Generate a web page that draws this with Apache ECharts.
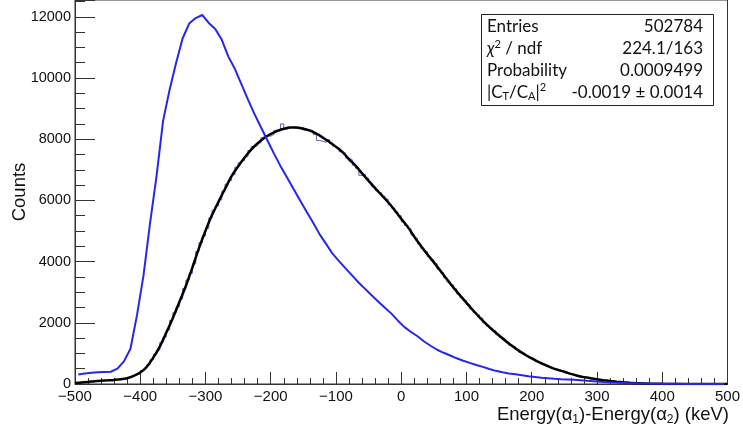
<!DOCTYPE html>
<html><head><meta charset="utf-8">
<script src="https://cdn.jsdelivr.net/npm/echarts@6/dist/echarts.min.js"></script>
<style>html,body{margin:0;padding:0;background:#fff}#c{width:743px;height:432px}</style>
</head><body><div id="c"></div>
<script>
// ---- data ----
// data histogram: 5 keV bins, lower edges from -500
const histStart = -500, histWidth = 5;
const histCounts = [
30,52,58,60,70,95,100,98,118,110,115,140,145,135,170,175,200,260,300,330,
440,505,620,800,970,1110,1360,1540,1770,2080,2330,2520,2780,3120,3400,3620,3930,4330,4620,4840,
5090,5430,5680,5820,6020,6300,6530,6650,6840,7080,7230,7300,7430,7630,7760,7800,7880,8050,8120,8100,
8160,8290,8270,8500,8330,8380,8400,8350,8340,8390,8300,8310,8280,8160,7960,7930,7900,7990,7860,7770,
7720,7590,7540,7380,7330,7150,7050,6820,6850,6730,6590,6440,6330,6250,6140,6040,5860,5750,5620,5500,
5300,5180,5070,4870,4760,4580,4430,4330,4160,4060,3930,3750,3640,3470,3340,3230,3110,2940,2820,2730,
2600,2450,2340,2260,2150,2000,1900,1830,1740,1610,1530,1470,1370,1270,1220,1120,1040,1000,930,860,
820,740,690,660,610,550,505,490,450,410,385,340,320,280,255,240,220,195,178,168,
150,130,115,108,95,80,68,62,50,45,38,30,25,22,17,13,10,9,7,6,
5,3,3,2,2,2,1,1,1,1,1,0,0,1,0,0,0,0,0,0
];
// fit curve, sampled every 10 keV from -500 to 500
const fitStart = -500, fitStep = 10;
const fitCounts = [
35,48,68,92,108,120,133,152,190,265,
375,565,860,1220,1680,2160,2680,3210,3810,4440,
5010,5520,5960,6380,6790,7110,7400,7660,7870,8040,
8170,8270,8340,8380,8380,8340,8280,8180,8050,7910,
7750,7580,7345,7135,6885,6640,6400,6170,5940,5680,
5400,5135,4815,4520,4240,3975,3700,3420,3150,2900,
2650,2410,2180,1965,1765,1585,1405,1240,1090,955,
835,725,625,535,460,400,330,270,225,190,
155,125,98,75,56,40,28,19,12,8,
5,3,2,1,1,1,0,0,0,0,0
];
// comparison distribution (blue), 10 keV bins, centres from -495
const blueStart = -495, blueStep = 10;
const blueCounts = [
310,345,370,380,390,400,500,740,1150,2250,
3550,5250,6800,8600,9620,10500,11300,11780,11960,12060,
11800,11600,11250,10700,10300,9800,9300,8830,8390,7960,
7530,7120,6750,6370,6000,5630,5270,4890,4570,4250,
4010,3770,3540,3310,3100,2890,2690,2490,2300,2070,
1860,1700,1560,1390,1250,1120,1020,930,840,760,
690,620,560,490,430,385,345,315,285,255,
230,205,188,170,158,150,138,125,105,88,
70,58,47,38,31,26,20,16,12,10,
8,6,5,4,3,3,2,2,1,1
];
const xTicks = [-500,-400,-300,-200,-100,0,100,200,300,400,500];
const yTicks = [0,2000,4000,6000,8000,10000,12000];
const statsRows = [
  ['Entries', '502784'],
  ['{it|χ}{sup|2} / ndf', '224.1/163'],
  ['Probability', '0.0009499'],
  ['|C{sub|T}/C{sub|A}|{sup|2}', '-0.0019 ± 0.0014']
];

// ---- build ----
const histData = histCounts.map((v,i)=>[histStart+i*histWidth, v]);
histData.push([histStart+histCounts.length*histWidth, histCounts[histCounts.length-1]]);
const fitData = fitCounts.map((v,i)=>[fitStart+i*fitStep, v]);
const blueData = blueCounts.map((v,i)=>[blueStart+i*blueStep, v]);

const chart = echarts.init(document.getElementById('c'), null, {renderer:'canvas'});
const axisCol = '#333';
const richBase = {
  sub:{fontSize:11, lineHeight:11, verticalAlign:'bottom', fontFamily:'Lato', fill:'#111'},
  sup:{fontSize:11, lineHeight:11, verticalAlign:'top', fontFamily:'Lato', fill:'#111'},
  it:{fontSize:17, lineHeight:20, fontStyle:'italic', fontFamily:'Lato', fill:'#111'}
};
const graphics = [];
graphics.push({type:'rect', shape:{x:481.5, y:14.5, width:232, height:91},
  style:{fill:'#fff', stroke:'#222', lineWidth:1}, z:100});
statsRows.forEach((r,i)=>{
  const y = 27 + i*21.7;
  graphics.push({type:'text', x:487, y:y, z:101, style:{text:r[0], font:'17px Lato', fill:'#111',
    verticalAlign:'middle', align:'left', lineHeight:20, rich:richBase}});
  graphics.push({type:'text', x:703, y:y, z:101, style:{text:r[1], font:'17px Lato', fill:'#111',
    verticalAlign:'middle', align:'right', lineHeight:20}});
});
graphics.push({type:'text', x:729, y:415, z:101, style:{
  text:'Energy(α{s|1})-Energy(α{s|2}) (keV)', font:'18.5px "Liberation Sans"', fill:'#111',
  align:'right', verticalAlign:'middle', lineHeight:22,
  rich:{s:{fontSize:12, lineHeight:12, verticalAlign:'bottom', fontFamily:'Liberation Sans', fill:'#111'}}}});
graphics.push({type:'text', x:20, y:192, rotation:Math.PI/2, z:101, style:{
  text:'Counts', font:'18.5px "Liberation Sans"', fill:'#111', align:'center', verticalAlign:'middle'}});

chart.setOption({
  animation:false,
  backgroundColor:'#fff',
  grid:{left:75, right:14, top:-2, bottom:48, show:true, borderColor:axisCol, borderWidth:1, backgroundColor:'transparent'},
  xAxis:{type:'value', min:xTicks[0], max:xTicks[xTicks.length-1], interval:100,
    axisLine:{show:true, onZero:false, lineStyle:{color:axisCol, width:1}},
    axisTick:{show:true, inside:true, length:12, lineStyle:{color:axisCol}},
    minorTick:{show:true, splitNumber:5, length:6, lineStyle:{color:axisCol}},
    splitLine:{show:false},
    axisLabel:{color:'#111', fontSize:15, fontFamily:'Liberation Sans', margin:5,
      formatter:v=>String(v).replace('-','\u2212')}},
  yAxis:{type:'value', min:yTicks[0], max:12550, interval:2000,
    axisLine:{show:true, onZero:false, lineStyle:{color:axisCol, width:1}},
    axisTick:{show:true, inside:true, length:20, lineStyle:{color:axisCol}},
    minorTick:{show:true, splitNumber:4, length:10, lineStyle:{color:axisCol}},
    splitLine:{show:false},
    axisLabel:{color:'#111', fontSize:14.5, fontFamily:'Liberation Sans', margin:4,
      formatter:v=> (yTicks.indexOf(v)>=0 ? String(v) : '')}},
  series:[
    {type:'line', data:histData, step:'end', symbol:'none', z:2,
      lineStyle:{color:'#5e5eb4', width:1}},
    {type:'line', data:fitData, smooth:0.3, symbol:'none', z:3,
      lineStyle:{color:'#000', width:2.5}},
    {type:'line', data:blueData, symbol:'none', z:4,
      lineStyle:{color:'#2626ee', width:2}}
  ],
  graphic:graphics
});
</script></body></html>
